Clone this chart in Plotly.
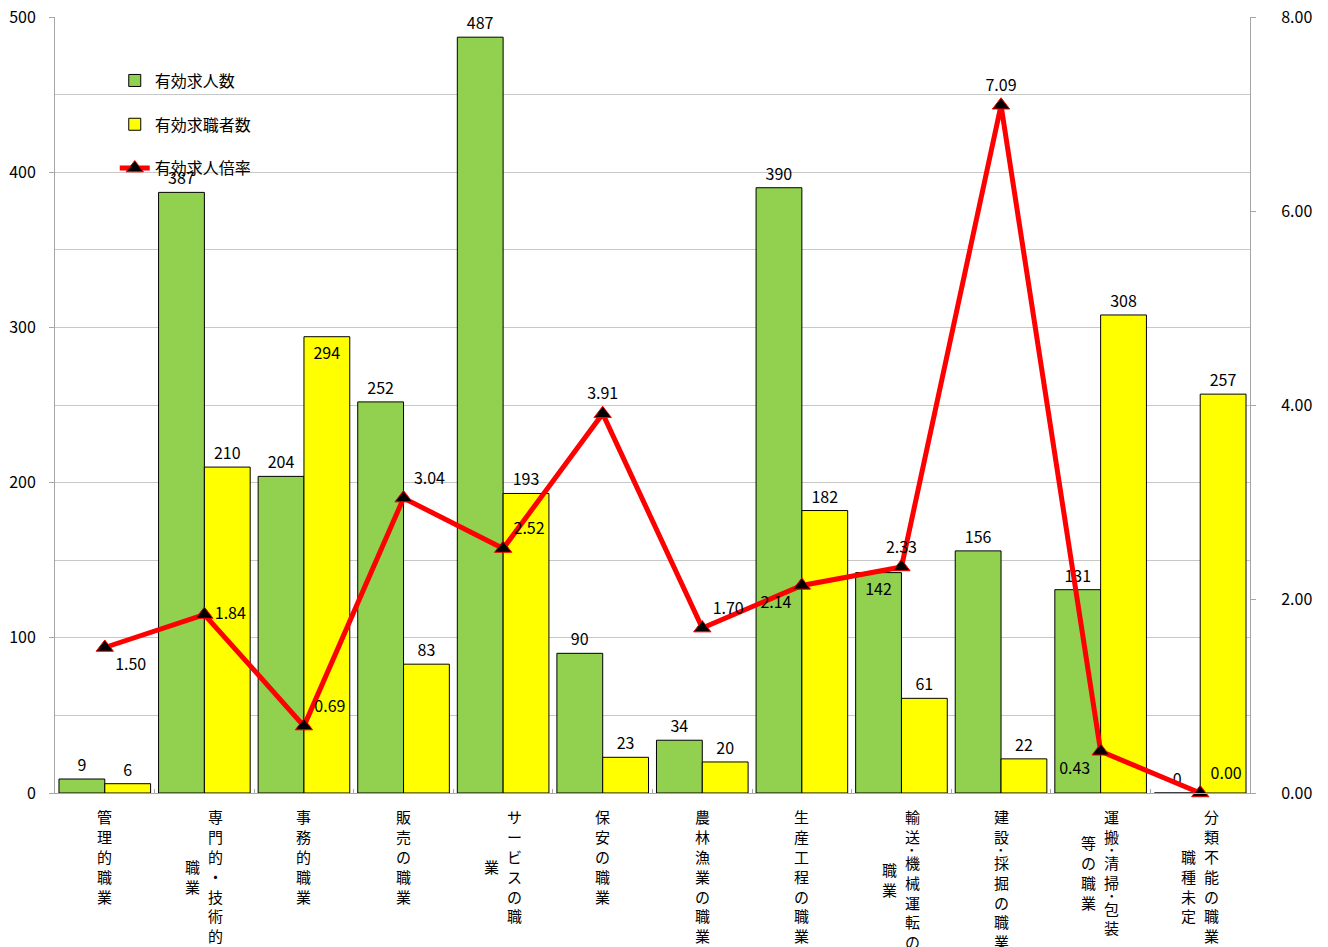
import plotly.graph_objects as go

categories = ["管理的職業", "専門的・技術的職業", "事務的職業", "販売の職業", "サービスの職業",
              "保安の職業", "農林漁業の職業", "生産工程の職業", "輸送･機械運転の職業",
              "建設･採掘の職業", "運搬･清掃･包装等の職業", "分類不能の職業、職種未定"]
# vertical label columns (right column first, as in vertical Japanese writing)
label_columns = [
    ["管理的職業"],
    ["専門的・技術的", "職業"],
    ["事務的職業"],
    ["販売の職業"],
    ["サービスの職", "業"],
    ["保安の職業"],
    ["農林漁業の職業"],
    ["生産工程の職業"],
    ["輸送･機械運転の", "職業"],
    ["建設･採掘の職業"],
    ["運搬･清掃･包装", "等の職業"],
    ["分類不能の職業、", "職種未定"],
]
job_offers = [9, 387, 204, 252, 487, 90, 34, 390, 142, 156, 131, 0]
job_seekers = [6, 210, 294, 83, 193, 23, 20, 182, 61, 22, 308, 257]
ratio = [1.50, 1.84, 0.69, 3.04, 2.52, 3.91, 1.70, 2.14, 2.33, 7.09, 0.43, 0.00]
offers_text_pos = ["outside"] * 8 + ["inside"] + ["outside"] * 3
seekers_text_pos = ["outside", "outside", "inside"] + ["outside"] * 9
ratio_text_pos = ["bottom right", "middle right", "top right", "top right", "top right", "top center",
                  "top right", "bottom left", "top center", "top center", "bottom left", "top right"]

FONT = "Noto Sans CJK JP"

fig = go.Figure()
fig.add_trace(go.Bar(
    x=categories, y=job_offers, name="有効求人数",
    marker=dict(color="#92D050", line=dict(color="#000000", width=1)),
    text=[str(v) for v in job_offers], textposition=offers_text_pos,
    insidetextanchor="end", textangle=0,
    textfont=dict(size=16, color="#000000", family=FONT),
    cliponaxis=False, legendgroup="a",
))
fig.add_trace(go.Bar(
    x=categories, y=job_seekers, name="有効求職者数",
    marker=dict(color="#FFFF00", line=dict(color="#000000", width=1)),
    text=[str(v) for v in job_seekers], textposition=seekers_text_pos,
    insidetextanchor="end", textangle=0,
    textfont=dict(size=16, color="#000000", family=FONT),
    cliponaxis=False, legendgroup="b",
))
fig.add_trace(go.Scatter(
    x=categories, y=ratio, name="有効求人倍率", yaxis="y2",
    mode="lines+markers+text",
    line=dict(color="#FF0000", width=5),
    marker=dict(symbol="triangle-up", size=15, color="#000000", line=dict(color="#FF0000", width=1)),
    text=[f"{v:.2f}" for v in ratio], textposition=ratio_text_pos,
    textfont=dict(size=16, color="#000000", family=FONT),
    cliponaxis=False, legendgroup="c",
))

# vertical category labels, one character per annotation
FULL = 19.8   # advance of a full-width character
HALF = 6.0    # advance of a half-width middle dot
TOP = 14      # gap below the axis


def advances(col):
    return [HALF if ch == "･" else FULL for ch in col]


annotations = []
for cat, cols in zip(categories, label_columns):
    first_len = sum(advances(cols[0]))
    xoffs = [0] if len(cols) == 1 else [11, -12]
    for ci, col in enumerate(cols):
        adv = advances(col)
        start = TOP if ci == 0 else TOP + (first_len - sum(adv)) / 2
        pos = start
        for ch, a in zip(col, adv):
            center = pos + a / 2
            annotations.append(dict(
                x=cat, xref="x", y=0, yref="paper", yanchor="middle", xanchor="center",
                text=ch, showarrow=False,
                xshift=xoffs[ci], yshift=-center,
                font=dict(size=15, color="#000000", family=FONT),
            ))
            pos += a

fig.update_layout(
    width=1328, height=947,
    margin=dict(l=47, r=86, t=9, b=162, autoexpand=False),
    paper_bgcolor="white", plot_bgcolor="white",
    barmode="group", bargap=0.08, bargroupgap=0,
    uniformtext=dict(minsize=16, mode="show"),
    font=dict(family=FONT, size=16, color="#000000"),
    legend=dict(x=0.05, y=0.94, xanchor="left", yanchor="top",
                bgcolor="rgba(0,0,0,0)", font=dict(size=16, family=FONT),
                tracegroupgap=20),
    xaxis=dict(range=[-0.5, len(categories) - 0.5], showticklabels=False, showline=True,
               linecolor="#A6A6A6", linewidth=1, ticks="inside", tickson="boundaries",
               ticklen=4, tickcolor="#A6A6A6", showgrid=False, automargin=False),
    yaxis=dict(range=[0, 500], dtick=100, showgrid=True, gridcolor="#C8C8C8", gridwidth=1,
               minor=dict(dtick=50, showgrid=True, gridcolor="#C8C8C8"),
               showline=True, linecolor="#A6A6A6", ticks="outside", ticklen=5, tickcolor="#A6A6A6",
               tickfont=dict(size=16, family=FONT), zeroline=False, automargin=False,
               ticklabeloverflow="allow", ticklabelstandoff=10),
    yaxis2=dict(range=[0, 8], dtick=2, overlaying="y", side="right", tickformat=".2f",
                showgrid=False, showline=True, linecolor="#A6A6A6", ticks="outside",
                ticklen=5, tickcolor="#A6A6A6", tickfont=dict(size=16, family=FONT),
                zeroline=False, automargin=False, ticklabeloverflow="allow",
                ticklabelstandoff=22),
    annotations=annotations,
)

fig.write_html("out.html")
